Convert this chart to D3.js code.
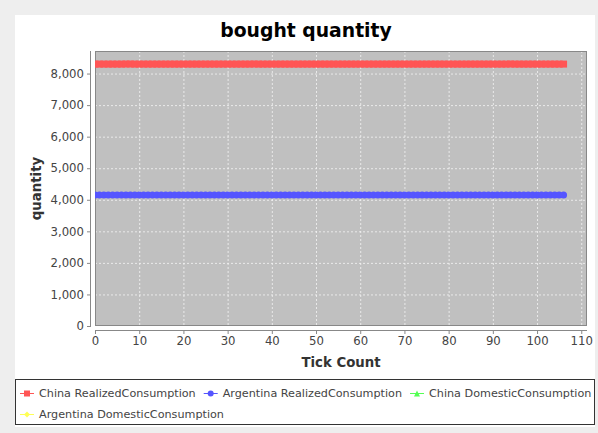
<!DOCTYPE html>
<html><head><meta charset="utf-8">
<script src="https://cdn.jsdelivr.net/npm/d3@7"></script>
<style>
html,body{margin:0;padding:0;background:#eeeeee;}
svg{display:block;}
text{font-family:"DejaVu Sans",sans-serif;}
</style></head>
<body>
<svg id="c" width="598" height="433"></svg>
<script>
const title = "bought quantity";
const xLabel = "Tick Count";
const yLabel = "quantity";
const seriesNames = ["China RealizedConsumption","Argentina RealizedConsumption","China DomesticConsumption","Argentina DomesticConsumption"];
const seriesColors = ["#ff5555","#5555ff","#55ff55","#ffff55"];
const seriesShapes = ["square","circle","triangle","diamond"];
const tickCount = [
 0,1,2,3,4,5,6,7,8,9,
 10,11,12,13,14,15,16,17,18,19,
 20,21,22,23,24,25,26,27,28,29,
 30,31,32,33,34,35,36,37,38,39,
 40,41,42,43,44,45,46,47,48,49,
 50,51,52,53,54,55,56,57,58,59,
 60,61,62,63,64,65,66,67,68,69,
 70,71,72,73,74,75,76,77,78,79,
 80,81,82,83,84,85,86,87,88,89,
 90,91,92,93,94,95,96,97,98,99,
 100,101,102,103,104,105,106];
const chinaRealized = [
 8300,8300,8300,8300,8300,8300,8300,8300,8300,8300,
 8300,8300,8300,8300,8300,8300,8300,8300,8300,8300,
 8300,8300,8300,8300,8300,8300,8300,8300,8300,8300,
 8300,8300,8300,8300,8300,8300,8300,8300,8300,8300,
 8300,8300,8300,8300,8300,8300,8300,8300,8300,8300,
 8300,8300,8300,8300,8300,8300,8300,8300,8300,8300,
 8300,8300,8300,8300,8300,8300,8300,8300,8300,8300,
 8300,8300,8300,8300,8300,8300,8300,8300,8300,8300,
 8300,8300,8300,8300,8300,8300,8300,8300,8300,8300,
 8300,8300,8300,8300,8300,8300,8300,8300,8300,8300,
 8300,8300,8300,8300,8300,8300,8300];
const argentinaRealized = [
 4150,4150,4150,4150,4150,4150,4150,4150,4150,4150,
 4150,4150,4150,4150,4150,4150,4150,4150,4150,4150,
 4150,4150,4150,4150,4150,4150,4150,4150,4150,4150,
 4150,4150,4150,4150,4150,4150,4150,4150,4150,4150,
 4150,4150,4150,4150,4150,4150,4150,4150,4150,4150,
 4150,4150,4150,4150,4150,4150,4150,4150,4150,4150,
 4150,4150,4150,4150,4150,4150,4150,4150,4150,4150,
 4150,4150,4150,4150,4150,4150,4150,4150,4150,4150,
 4150,4150,4150,4150,4150,4150,4150,4150,4150,4150,
 4150,4150,4150,4150,4150,4150,4150,4150,4150,4150,
 4150,4150,4150,4150,4150,4150,4150];
const chinaDomestic = [];
const argentinaDomestic = [];
const xTicks = [0,10,20,30,40,50,60,70,80,90,100,110];
const yTicks = [0,1000,2000,3000,4000,5000,6000,7000,8000];

const seriesValues = [chinaRealized, argentinaRealized, chinaDomestic, argentinaDomestic];

const svg = d3.select("#c");
svg.append("rect").attr("x",15).attr("y",15).attr("width",580).attr("height",412).attr("fill","#ffffff");

const P = {l:95, r:587, t:51, b:326};
const allY = seriesValues.flat();
const xMax = d3.max(tickCount), yMax = d3.max(allY);
const x = d3.scaleLinear().domain([0, xMax*1.05]).range([P.l, P.r]);
const y = d3.scaleLinear().domain([0, yMax*1.05]).range([P.b, P.t]);

svg.append("text").attr("x",306).attr("y",36.5).attr("text-anchor","middle")
  .attr("font-weight","bold").attr("font-size","18.8px").attr("fill","#000").text(title);

svg.append("rect").attr("x",P.l).attr("y",P.t).attr("width",P.r-P.l).attr("height",P.b-P.t).attr("fill","#c0c0c0");

const grid = svg.append("g").attr("stroke","#ffffff").attr("stroke-width",0.8).attr("stroke-dasharray","2,2").attr("opacity",0.85);
grid.selectAll("line.gx").data(xTicks.filter(d=>x(d)>P.l && x(d)<P.r)).join("line")
  .attr("x1",d=>x(d)+0.5).attr("x2",d=>x(d)+0.5).attr("y1",P.t).attr("y2",P.b);
grid.selectAll("line.gy").data(yTicks.filter(d=>y(d)<P.b && y(d)>P.t)).join("line").attr("class","gy")
  .attr("y1",d=>y(d)+0.5).attr("y2",d=>y(d)+0.5).attr("x1",P.l).attr("x2",P.r);

const fmt = d3.format(",");
const yAxis = d3.axisLeft(y).tickValues(yTicks).tickFormat(fmt).tickSize(4).tickPadding(3);
const gy = svg.append("g").attr("transform",`translate(${P.l-4},0)`).call(yAxis);
const xAxis = d3.axisBottom(x).tickValues(xTicks).tickSize(4).tickPadding(3);
const gx = svg.append("g").attr("transform",`translate(0,${P.b+4})`).call(xAxis);
[gx,gy].forEach(g=>{
  g.select(".domain").attr("stroke","#888888");
  g.selectAll(".tick line").attr("stroke","#888888");
  g.selectAll(".tick text").attr("fill","#444444").attr("font-size","11.7px").attr("font-family","DejaVu Sans, sans-serif");
});
gy.select(".domain").attr("d",`M-0.5,${P.t}V${P.b}`);
gx.select(".domain").attr("d",`M${P.l},0.5H${P.r}`);

svg.append("rect").attr("x",P.l+0.5).attr("y",P.t+0.5).attr("width",P.r-P.l-1).attr("height",P.b-P.t-1)
  .attr("fill","none").attr("stroke","#888888");

svg.append("text").attr("x",(P.l+P.r)/2).attr("y",367).attr("text-anchor","middle")
  .attr("font-weight","bold").attr("font-size","13.3px").attr("fill","#333").text(xLabel);
svg.append("text").attr("transform",`translate(41,${(P.t+P.b)/2}) rotate(-90)`).attr("text-anchor","middle")
  .attr("font-weight","bold").attr("font-size","13.3px").attr("fill","#333").text(yLabel);

svg.append("clipPath").attr("id","pc").append("rect").attr("x",P.l).attr("y",P.t).attr("width",P.r-P.l).attr("height",P.b-P.t);
const plot = svg.append("g").attr("clip-path","url(#pc)");
function shapePath(s, cx, cy, h){
  if(s==="square") return `M${cx-h},${cy-h}h${2*h}v${2*h}h${-2*h}z`;
  if(s==="circle") return `M${cx-h},${cy}a${h},${h} 0 1,0 ${2*h},0a${h},${h} 0 1,0 ${-2*h},0z`;
  if(s==="triangle") return `M${cx},${cy-h}L${cx+h},${cy+h}L${cx-h},${cy+h}z`;
  return `M${cx},${cy-h}L${cx+h},${cy}L${cx},${cy+h}L${cx-h},${cy}z`;
}
for(let i=seriesValues.length-1;i>=0;i--){
  const vals = seriesValues[i];
  if(!vals.length) continue;
  const pts = vals.map((v,j)=>[tickCount[j], v]);
  plot.append("path").attr("d", d3.line().x(d=>x(d[0])).y(d=>y(d[1]))(pts))
    .attr("fill","none").attr("stroke",seriesColors[i]).attr("stroke-width",1);
  plot.append("g").selectAll("path").data(pts).join("path")
    .attr("d",d=>shapePath(seriesShapes[i], x(d[0]), y(d[1]), 3.5)).attr("fill",seriesColors[i]);
}

const L = {x:15.5, y:379.5, w:579, h:45};
svg.append("rect").attr("x",L.x).attr("y",L.y).attr("width",L.w).attr("height",L.h)
  .attr("fill","#fff").attr("stroke","#333").attr("stroke-width",1);
const leg = svg.append("g");
let cx = 19, row = 0;
const rowY = [393, 414];
seriesNames.forEach((name,i)=>{
  const g = leg.append("g");
  const t = g.append("text").attr("font-size","11.2px").attr("fill","#444").text(name);
  const tw = t.node().getComputedTextLength();
  const itemW = 20 + tw;
  if(cx + itemW > L.x + L.w - 1){ row++; cx = 19; }
  const cy = rowY[row];
  g.append("line").attr("x1",cx+1).attr("x2",cx+15).attr("y1",cy+0.5).attr("y2",cy+0.5)
    .attr("stroke",seriesColors[i]).attr("stroke-width",1);
  g.append("path").attr("d",shapePath(seriesShapes[i], cx+8, cy+0.5, 3)).attr("fill",seriesColors[i]);
  t.attr("x",cx+20).attr("y",cy+4);
  cx += itemW + 7;
});
</script>
</body></html>
